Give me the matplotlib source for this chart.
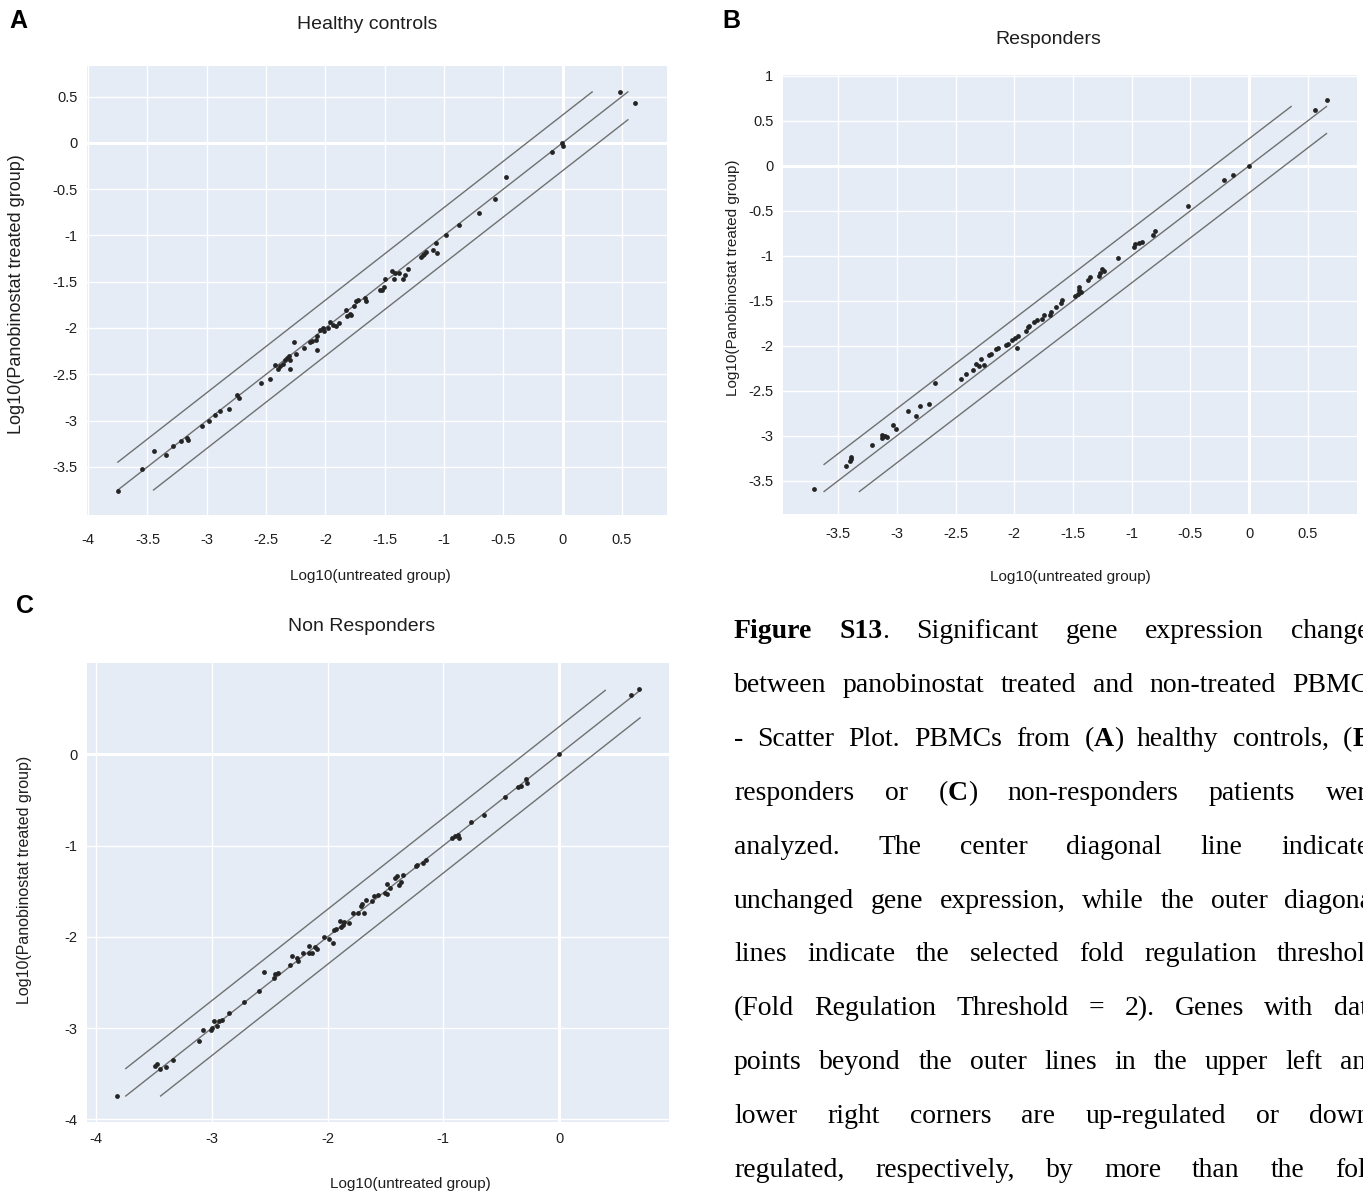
import numpy as np
import matplotlib
matplotlib.use("Agg")
import matplotlib.pyplot as plt

plt.rcParams["font.family"] = ["Liberation Sans", "DejaVu Sans"]
plt.rcParams["axes.unicode_minus"] = False

W, H = 1363, 1196

# -----------------------------
# data (log10 expression)
# -----------------------------
fold_threshold = 2

# A - healthy controls
hc_x = [-3.748, -3.548, -3.442, -3.345, -3.281, -3.216, -3.168, -3.155, -3.042, -2.984,
        -2.929, -2.890, -2.816, -2.742, -2.732, -2.545, -2.465, -2.429, -2.400, -2.381,
        -2.361, -2.339, -2.323, -2.310, -2.297, -2.297, -2.265, -2.245, -2.184, -2.126,
        -2.110, -2.077, -2.071, -2.068, -2.045, -2.023, -2.010, -1.977, -1.961, -1.939,
        -1.910, -1.887, -1.823, -1.816, -1.794, -1.781, -1.758, -1.739, -1.729, -1.665,
        -1.661, -1.539, -1.523, -1.510, -1.500, -1.435, -1.419, -1.410, -1.377, -1.342,
        -1.329, -1.303, -1.190, -1.181, -1.168, -1.155, -1.090, -1.065, -1.058, -0.981,
        -0.874, -0.706, -0.574, -0.474, -0.087, -0.003, 0.003, 0.481, 0.613]
hc_y = [-3.759, -3.525, -3.331, -3.374, -3.277, -3.219, -3.187, -3.205, -3.058, -3.000,
        -2.935, -2.896, -2.871, -2.723, -2.755, -2.590, -2.554, -2.396, -2.439, -2.414,
        -2.385, -2.349, -2.324, -2.306, -2.349, -2.446, -2.147, -2.277, -2.212, -2.155,
        -2.144, -2.126, -2.241, -2.083, -2.025, -1.996, -2.032, -1.996, -1.932, -1.971,
        -1.978, -1.942, -1.809, -1.874, -1.853, -1.856, -1.766, -1.712, -1.694, -1.676,
        -1.712, -1.594, -1.586, -1.561, -1.475, -1.388, -1.471, -1.406, -1.403, -1.475,
        -1.432, -1.360, -1.230, -1.216, -1.205, -1.180, -1.155, -1.086, -1.187, -1.000,
        -0.885, -0.759, -0.604, -0.367, -0.097, -0.004, -0.036, 0.550, 0.435]

# B - responders
rs_x = [-3.703, -3.435, -3.400, -3.394, -3.387, -3.216, -3.129, -3.123, -3.097, -3.081,
        -3.032, -3.010, -2.903, -2.839, -2.803, -2.726, -2.674, -2.452, -2.410, -2.348,
        -2.329, -2.300, -2.287, -2.258, -2.216, -2.200, -2.155, -2.135, -2.074, -2.055,
        -2.016, -1.990, -1.977, -1.968, -1.903, -1.887, -1.871, -1.832, -1.806, -1.765,
        -1.748, -1.694, -1.687, -1.645, -1.603, -1.597, -1.484, -1.461, -1.445, -1.429,
        -1.452, -1.371, -1.355, -1.281, -1.268, -1.252, -1.232, -1.113, -0.984, -0.968,
        -0.935, -0.913, -0.816, -0.803, -0.516, -0.210, -0.139, 0.000, 0.565, 0.661]
rs_y = [-3.590, -3.339, -3.277, -3.240, -3.258, -3.103, -3.030, -2.989, -3.000, -3.018,
        -2.878, -2.926, -2.723, -2.779, -2.675, -2.642, -2.417, -2.365, -2.310, -2.273,
        -2.207, -2.225, -2.151, -2.210, -2.107, -2.096, -2.033, -2.022, -1.996, -1.978,
        -1.937, -1.911, -2.022, -1.893, -1.838, -1.790, -1.775, -1.734, -1.716, -1.697,
        -1.653, -1.653, -1.627, -1.568, -1.524, -1.487, -1.443, -1.421, -1.384, -1.402,
        -1.347, -1.266, -1.236, -1.229, -1.192, -1.144, -1.166, -1.026, -0.897, -0.867,
        -0.860, -0.845, -0.768, -0.720, -0.446, -0.159, -0.103, 0.000, 0.616, 0.734]

# C - non responders
nr_x = [-3.824, -3.491, -3.478, -3.445, -3.398, -3.338, -3.109, -3.079, -3.012, -3.002,
        -2.986, -2.959, -2.943, -2.909, -2.856, -2.720, -2.590, -2.550, -2.467, -2.454,
        -2.427, -2.328, -2.311, -2.268, -2.254, -2.211, -2.165, -2.161, -2.138, -2.111,
        -2.095, -2.035, -1.988, -1.958, -1.945, -1.928, -1.895, -1.889, -1.869, -1.862,
        -1.812, -1.782, -1.742, -1.716, -1.699, -1.689, -1.672, -1.616, -1.596, -1.566,
        -1.506, -1.490, -1.483, -1.463, -1.416, -1.403, -1.380, -1.370, -1.350, -1.234,
        -1.230, -1.180, -1.147, -0.924, -0.898, -0.874, -0.868, -0.758, -0.652, -0.469,
        -0.359, -0.333, -0.283, -0.276, 0.000, 0.622, 0.695]
nr_y = [-3.745, -3.411, -3.389, -3.444, -3.425, -3.353, -3.138, -3.018, -3.018, -3.000,
        -2.927, -2.982, -2.927, -2.916, -2.836, -2.720, -2.589, -2.382, -2.455, -2.411,
        -2.400, -2.309, -2.211, -2.236, -2.265, -2.175, -2.175, -2.102, -2.182, -2.116,
        -2.138, -2.007, -2.029, -2.073, -1.927, -1.920, -1.829, -1.891, -1.873, -1.836,
        -1.847, -1.738, -1.745, -1.665, -1.636, -1.738, -1.593, -1.607, -1.556, -1.538,
        -1.520, -1.418, -1.527, -1.462, -1.356, -1.335, -1.429, -1.400, -1.320, -1.229,
        -1.211, -1.193, -1.164, -0.916, -0.898, -0.880, -0.920, -0.738, -0.662, -0.473,
        -0.356, -0.345, -0.273, -0.320, 0.000, 0.644, 0.716]

titles = ["Healthy controls", "Responders", "Non Responders"]
letters = ["A", "B", "C"]
# extent of the diagonal guide lines
line_lo = [-3.75, -3.62, -3.745]
line_hi = [0.55, 0.66, 0.70]

caption = [
    "*Figure* *S13*. Significant gene expression changes",
    "between panobinostat treated and non-treated PBMCs",
    "- Scatter Plot. PBMCs from (*A*) healthy controls, (*B*)",
    "responders or (*C*) non-responders patients were",
    "analyzed. The center diagonal line indicates",
    "unchanged gene expression, while the outer diagonal",
    "lines indicate the selected fold regulation threshold",
    "(Fold Regulation Threshold = 2). Genes with data",
    "points beyond the outer lines in the upper left and",
    "lower right corners are up-regulated or down-",
    "regulated, respectively, by more than the fold",
]

# -----------------------------
# layout (pixels)
# -----------------------------
fig = plt.figure(figsize=(W / 100, H / 100), dpi=100)
fig.patch.set_facecolor("white")


def fx(px):
    return px / W


def fy(py):
    return 1 - py / H


def rect(l, t, r, b):
    return [l / W, 1 - b / H, (r - l) / W, (b - t) / H]


panels = [
    dict(x=hc_x, y=hc_y, box=(87, 66, 667, 515), xlim=(-4.01, 0.88), ylim=(-4.02, 0.83),
         xt=[-4, -3.5, -3, -2.5, -2, -1.5, -1, -0.5, 0, 0.5],
         yt=[-3.5, -3, -2.5, -2, -1.5, -1, -0.5, 0, 0.5], xpad=13,
         title=(367, 29), letter=(18, 21), xlab=(370, 576), ylab=(17, 294), ylsize=13),
    dict(x=rs_x, y=rs_y, box=(783, 75, 1357, 514), xlim=(-3.97, 0.92), ylim=(-3.87, 1.01),
         xt=[-3.5, -3, -2.5, -2, -1.5, -1, -0.5, 0, 0.5],
         yt=[-3.5, -3, -2.5, -2, -1.5, -1, -0.5, 0, 0.5, 1], xpad=9,
         title=(1048, 44), letter=(731, 21), xlab=(1070, 577), ylab=(733, 278), ylsize=11),
    dict(x=nr_x, y=nr_y, box=(87, 663, 669, 1122), xlim=(-4.08, 0.95), ylim=(-4.03, 1.0),
         xt=[-4, -3, -2, -1, 0], yt=[-4, -3, -2, -1, 0], xpad=7,
         title=(362, 631), letter=(25, 606), xlab=(410, 1184), ylab=(25, 880), ylsize=11.5),
]

bg = "#E5ECF6"
txt = "#1e1e1e"
d = np.log10(fold_threshold)

for i, p in enumerate(panels):
    ax = fig.add_axes(rect(*p["box"]))
    ax.set_facecolor(bg)
    for s in ax.spines.values():
        s.set_visible(False)
    ax.set_xlim(*p["xlim"])
    ax.set_ylim(*p["ylim"])
    ax.set_xticks(p["xt"])
    ax.set_yticks(p["yt"])
    ax.set_xticklabels([f"{t:g}" for t in p["xt"]])
    ax.set_yticklabels([f"{t:g}" for t in p["yt"]])
    ax.tick_params(length=0, labelsize=10.5, colors=txt)
    ax.tick_params(axis="x", pad=p["xpad"])
    ax.tick_params(axis="y", pad=7)
    ax.grid(color="white", lw=1)
    ax.set_axisbelow(True)
    ax.axhline(0, color="white", lw=2.2, zorder=0.6)
    ax.axvline(0, color="white", lw=2.2, zorder=0.6)

    lo, hi = line_lo[i], line_hi[i]
    ax.plot([lo, hi], [lo, hi], color="#707070", lw=1, zorder=2)
    ax.plot([lo, hi - d], [lo + d, hi], color="#707070", lw=1, zorder=2)
    ax.plot([lo + d, hi], [lo, hi - d], color="#707070", lw=1, zorder=2)

    ax.scatter(p["x"], p["y"], s=12, color="#242424", linewidths=0, zorder=3)

    fig.text(fx(p["title"][0]), fy(p["title"][1]), titles[i], ha="center",
             va="baseline", fontsize=14, color=txt)
    fig.text(fx(p["letter"][0]), fy(p["letter"][1]), letters[i], ha="center",
             va="center", fontsize=18, fontweight="bold", color="black")
    fig.text(fx(p["xlab"][0]), fy(p["xlab"][1]), "Log10(untreated group)",
             ha="center", va="center", fontsize=11, color=txt)
    fig.text(fx(p["ylab"][0]), fy(p["ylab"][1]), "Log10(Panobinostat treated group)",
             ha="center", va="center", rotation=90, fontsize=p["ylsize"], color=txt)

# -----------------------------
# caption, justified between left and right margins
# (the right side runs past the figure edge, as in the source)
# -----------------------------
renderer = fig.canvas.get_renderer()
cap_font = dict(family=["Liberation Serif", "DejaVu Serif"], fontsize=20, color="black")
left_px, right_px = 734, 1380
base0, step = 638, 53.9


def width_of(s, bold):
    t = fig.text(0, 0, s, fontweight="bold" if bold else "normal", **cap_font)
    w = t.get_window_extent(renderer).width
    t.remove()
    return w


bold = False
for li, line in enumerate(caption):
    words = []
    for w in line.split(" "):
        segs = []
        parts = w.split("*")
        for k, part in enumerate(parts):
            if k > 0:
                bold = not bold
            if part:
                segs.append((part, bold))
        words.append(segs)
    widths = [sum(width_of(s, b) for s, b in segs) for segs in words]
    gap = max(6, (right_px - left_px - sum(widths)) / (len(words) - 1))
    x = left_px
    yb = base0 + li * step
    for segs, wd in zip(words, widths):
        xx = x
        for s, b in segs:
            fig.text(fx(xx), fy(yb), s, ha="left", va="baseline",
                     fontweight="bold" if b else "normal", **cap_font)
            xx += width_of(s, b)
        x += wd + gap

fig.savefig("out.png", dpi=100)
